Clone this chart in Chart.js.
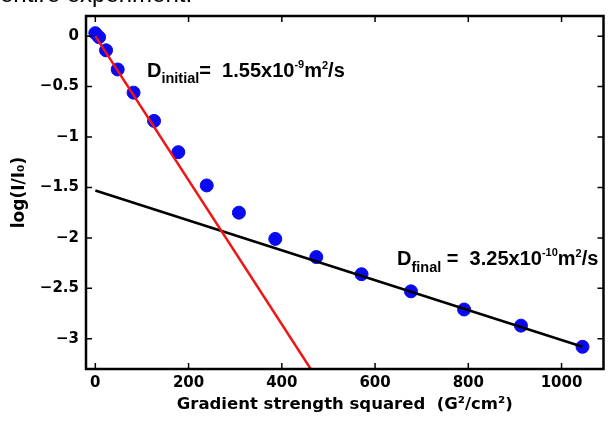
<!DOCTYPE html>
<html>
<head>
<meta charset="utf-8">
<script src="https://cdn.jsdelivr.net/npm/chart.js@4.4.1/dist/chart.umd.min.js"></script>
<style>
  html, body { margin: 0; padding: 0; background: #fff; overflow: hidden; }
  #wrap { position: relative; width: 611px; height: 423px; }
  #cut { position: absolute; left: 0; top: -18px; font: 24px "Liberation Sans", Arial, sans-serif; line-height: 24px; color: #000; white-space: nowrap; }
  canvas { position: absolute; left: 0; top: 0; }
</style>
</head>
<body>
<div id="wrap">
  <canvas id="chart" width="611" height="423"></canvas>
  <div id="cut">entire experiment.</div>
</div>
<script>
// waardes
const gradSq = [0, 8, 23, 48, 82, 126, 178, 239, 308, 386, 474, 571, 677, 791, 913, 1045];
const logRatio = [0.03, -0.01, -0.14, -0.33, -0.56, -0.84, -1.15, -1.48, -1.75, -2.01, -2.19, -2.36, -2.53, -2.71, -2.87, -3.08];

// fit lijnen (begin en eind punt)
const initialFitX = [0, 462];
const initialFitY = [0, -3.3];
const finalFitX = [0, 1045];
const finalFitY = [-1.53, -3.08];

const xTicks = [0, 200, 400, 600, 800, 1000];
const xTickLabels = ['0', '200', '400', '600', '800', '1000'];
const yTicks = [0, -0.5, -1, -1.5, -2, -2.5, -3];
const yTickLabels = ['0', '\u22120.5', '\u22121', '\u22121.5', '\u22122', '\u22122.5', '\u22123'];

const ctx = document.getElementById('chart');

function toPoints(xs, ys) {
  let pts = [];
  for (let i = 0; i < xs.length; i++) {
    pts.push({ x: xs[i], y: ys[i] });
  }
  return pts;
}

// kader met tick streepjes naar binnen
const frame = {
  id: 'frame',
  afterDatasetsDraw(chart) {
    const c = chart.ctx;
    const a = chart.chartArea;
    const sx = chart.scales.x;
    const sy = chart.scales.y;
    const len = 6;
    c.save();
    c.strokeStyle = '#000';
    c.lineWidth = 1.5;
    c.beginPath();
    xTicks.forEach(v => {
      const px = sx.getPixelForValue(v);
      c.moveTo(px, a.bottom); c.lineTo(px, a.bottom - len);
      c.moveTo(px, a.top); c.lineTo(px, a.top + len);
    });
    yTicks.forEach(v => {
      const py = sy.getPixelForValue(v);
      c.moveTo(a.left, py); c.lineTo(a.left + len, py);
      c.moveTo(a.right, py); c.lineTo(a.right - len, py);
    });
    c.stroke();
    c.lineWidth = 2.5;
    c.strokeRect(a.left, a.top, a.right - a.left, a.bottom - a.top);
    c.restore();
  }
};

// tekst met sub- en superscript
function drawRuns(c, x, y, runs) {
  runs.forEach(r => {
    c.font = 'bold ' + r.size + 'px "Liberation Sans", Arial, sans-serif';
    c.fillText(r.t, x, y + (r.dy || 0));
    x += c.measureText(r.t).width;
  });
}

const labels = {
  id: 'labels',
  afterDraw(chart) {
    const c = chart.ctx;
    c.save();
    c.fillStyle = '#000';
    c.textBaseline = 'alphabetic';
    c.textAlign = 'left';
    drawRuns(c, 147, 76.5, [
      { t: 'D', size: 20 },
      { t: 'initial', size: 14.5, dy: 6.5 },
      { t: '=  1.55x10', size: 20 },
      { t: '-9', size: 11, dy: -9 },
      { t: 'm', size: 20 },
      { t: '2', size: 11, dy: -8 },
      { t: '/s', size: 20 }
    ]);
    drawRuns(c, 397, 265, [
      { t: 'D', size: 20 },
      { t: 'final', size: 14.5, dy: 6.5 },
      { t: ' =  3.25x10', size: 20 },
      { t: '-10', size: 11, dy: -9 },
      { t: 'm', size: 20 },
      { t: '2', size: 11, dy: -8 },
      { t: '/s', size: 20 }
    ]);
    c.restore();
  }
};

const tickFont = { family: 'DejaVu Sans', size: 15, weight: 'bold' };
const titleFont = { family: 'DejaVu Sans', size: 16.5, weight: 'bold' };

new Chart(ctx, {
  type: 'scatter',
  data: {
    datasets: [
      {
        label: 'initial fit',
        type: 'line',
        data: toPoints(initialFitX, initialFitY),
        borderColor: '#f01414',
        borderWidth: 2.5,
        pointRadius: 0,
        fill: false,
        order: 0
      },
      {
        label: 'final fit',
        type: 'line',
        data: toPoints(finalFitX, finalFitY),
        borderColor: '#000',
        borderWidth: 2.5,
        pointRadius: 0,
        fill: false,
        order: 0
      },
      {
        label: 'log(I/I0)',
        data: toPoints(gradSq, logRatio),
        backgroundColor: '#0a0af0',
        borderColor: '#0a0af0',
        pointRadius: 6.5,
        pointHoverRadius: 6.5,
        order: 1
      }
    ]
  },
  options: {
    responsive: false,
    animation: false,
    devicePixelRatio: 1,
    layout: { padding: { top: 13, right: 3, left: 0, bottom: 0 } },
    plugins: {
      legend: { display: false },
      tooltip: { enabled: false }
    },
    scales: {
      x: {
        type: 'linear',
        min: -20,
        max: 1090,
        afterBuildTicks: s => { s.ticks = xTicks.map(v => ({ value: v })); },
        afterFit: s => { s.height = 54; },
        grid: { display: false, drawTicks: false },
        border: { display: false },
        ticks: {
          font: tickFont,
          color: '#000',
          padding: 5,
          maxRotation: 0,
          callback: (v, i) => xTickLabels[i]
        },
        title: {
          display: true,
          text: 'Gradient strength squared  (G\u00b2/cm\u00b2)',
          font: titleFont,
          color: '#000',
          padding: { top: 0, bottom: 8 }
        }
      },
      y: {
        type: 'linear',
        min: -3.3,
        max: 0.2,
        afterBuildTicks: s => { s.ticks = yTicks.map(v => ({ value: v })); },
        afterFit: s => { s.width = 86; },
        grid: { display: false, drawTicks: false },
        border: { display: false },
        ticks: {
          font: tickFont,
          color: '#000',
          padding: 7,
          callback: (v, i) => yTickLabels[i]
        },
        title: {
          display: true,
          text: 'log(I/I\u2080)',
          font: { family: 'DejaVu Sans', size: 17, weight: 'bold' },
          color: '#000',
          padding: { top: 9, bottom: 0 }
        }
      }
    }
  },
  plugins: [frame, labels]
});
</script>
</body>
</html>
